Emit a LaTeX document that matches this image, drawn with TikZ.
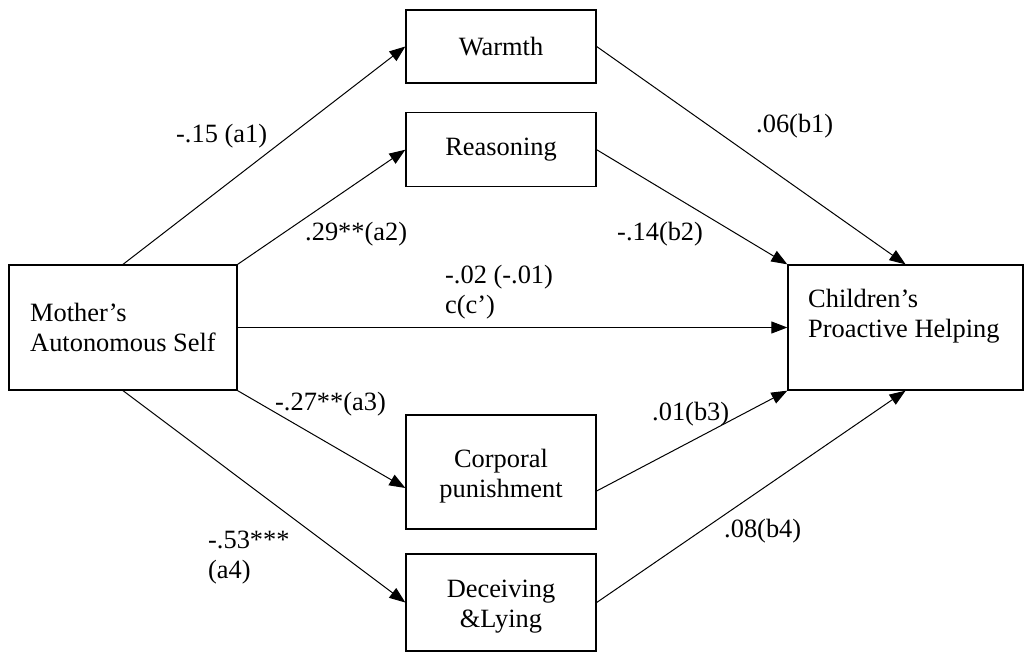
\documentclass[tikz,border=0pt]{standalone}
\usepackage{fontspec}
\setmainfont{Liberation Serif}
\usetikzlibrary{arrows.meta}
\begin{document}
\begin{tikzpicture}[x=1pt,y=-1pt,
  every node/.style={font=\fontsize{26.4}{30}\selectfont, inner sep=0pt},
  box/.style={draw, line width=1.3pt, fill=white},
  txt/.style={anchor=base west},
  path/.style={line width=1pt, -{Triangle[length=16pt,width=12pt]}}]
\useasboundingbox (0,0) rectangle (1024,653);

% variable boxes
\node[box, minimum width=228pt, minimum height=125pt, align=left] (mom) at (123,327.5)
  {Mother’s\\Autonomous Self};
\node[box, minimum width=235pt, minimum height=125pt] (child) at (905.5,327.5) {};
\node[anchor=north west, align=left] (childtxt) at (808,289) {Children’s\\Proactive Helping};

\node[box, minimum width=190pt, minimum height=73pt] (warm) at (501,46.5) {Warmth};
\node[box, minimum width=190pt, minimum height=74pt] (reas) at (501,149.7) {Reasoning};
\node[box, minimum width=190pt, minimum height=114pt] (corp) at (501,472) {};
\node[anchor=north, align=center] (corptxt) at (501,449) {Corporal\\punishment};
\node[box, minimum width=190pt, minimum height=97pt] (dec) at (501,602.5) {};
\node[anchor=north, align=center] (dectxt) at (501,580) {Deceiving\\\&Lying};

% paths
\draw[path] (mom.north) -- (warm.west);
\draw[path] (mom.north east) -- (reas.west);
\draw[path] (mom.east) -- (child.west);
\draw[path] (mom.south east) -- ([yshift=-16pt]corp.west);
\draw[path] (mom.south) -- (dec.west);
\draw[path] (warm.east) -- (child.north);
\draw[path] (reas.east) -- (child.north west);
\draw[path] ([yshift=-19pt]corp.east) -- (child.south west);
\draw[path] (dec.east) -- (child.south);

% coefficients
\node[txt] (la1) at (176,142) {-.15 (a1)};
\node[txt] (la2) at (305,240) {.29**(a2)};
\node[txt] (lc1) at (445,283) {-.02 (-.01)};
\node[txt] (lc2) at (445,313) {c(c’)};
\node[txt] (la3) at (275,410) {-.27**(a3)};
\node[txt] (la4a) at (208,548) {-.53***};
\node[txt] (la4b) at (208,578) {(a4)};
\node[txt] (lb1) at (756,132) {.06(b1)};
\node[txt] (lb2) at (617,240) {-.14(b2)};
\node[txt] (lb3) at (652,420) {.01(b3)};
\node[txt] (lb4) at (724,537) {.08(b4)};
\end{tikzpicture}
\end{document}
